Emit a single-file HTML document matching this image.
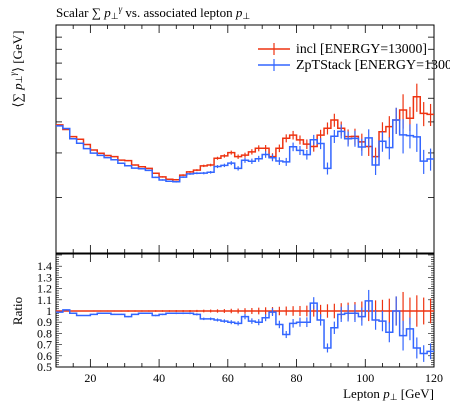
<!DOCTYPE html>
<html><head><meta charset="utf-8"><style>
body{margin:0;background:#fff;width:450px;height:406px;overflow:hidden}
svg{display:block;font-family:"Liberation Serif",serif}
</style></head><body>
<svg id="chart" width="450" height="406" viewBox="0 0 450 406">
<text x="56" y="17" font-size="13">Scalar ∑ <tspan font-style="italic">p</tspan><tspan font-size="9" dy="2">⊥</tspan><tspan font-size="9" dy="-7" font-style="italic">γ</tspan><tspan dy="5"> vs. associated lepton </tspan><tspan font-style="italic">p</tspan><tspan font-size="9" dy="2">⊥</tspan></text>
<text transform="translate(22,69) rotate(-90)" text-anchor="middle" font-size="13">⟨∑ <tspan font-style="italic">p</tspan><tspan font-size="9">⊥</tspan><tspan font-size="9" font-style="italic" dy="-6">γ</tspan><tspan dy="6">⟩ [GeV]</tspan></text>
<text transform="translate(22,311) rotate(-90)" text-anchor="middle" font-size="13">Ratio</text>
<text x="434" y="398" text-anchor="end" font-size="13">Lepton <tspan font-style="italic">p</tspan><tspan font-size="9" dy="2">⊥</tspan><tspan dy="-2"> [GeV]</tspan></text>
<g id="main"></g>
<g id="ratio"></g>
<g>
<g>
<line x1="258" y1="49" x2="290" y2="49" stroke="#EE3311" stroke-width="1.5"/><line x1="274" y1="43" x2="274" y2="55" stroke="#EE3311" stroke-width="1.2"/>
<text x="296" y="53" font-size="14" textLength="131" lengthAdjust="spacingAndGlyphs">incl [ENERGY=13000]</text></g>
<g>
<line x1="258" y1="65" x2="290" y2="65" stroke="#3366FF" stroke-width="1.5"/><line x1="274" y1="59" x2="274" y2="71" stroke="#3366FF" stroke-width="1.2"/>
<text x="296" y="69" font-size="14">ZpTStack [ENERGY=13000]</text></g>
</g>
</svg>
<script>
const binLow = 10, binWidth = 2;
const inclValues = [3.60,3.44,3.20,3.12,2.96,2.80,2.71,2.65,2.62,2.53,2.52,2.41,2.37,2.33,2.22,2.14,2.09,2.08,2.18,2.25,2.29,2.39,2.41,2.58,2.64,2.73,2.62,2.66,2.75,2.85,2.85,2.62,2.85,3.15,3.25,3.10,2.97,2.90,3.25,3.48,3.78,3.48,3.20,3.21,3.04,2.90,2.62,3.36,3.54,3.78,4.18,3.85,4.77,4.04,4.00];
const ratioValues = [0.99,1.01,0.98,0.96,0.96,0.97,0.98,0.98,0.97,0.97,0.95,0.97,0.98,0.98,0.96,0.97,0.98,0.98,0.98,0.98,0.97,0.93,0.93,0.92,0.91,0.90,0.89,0.95,0.91,0.90,0.94,0.99,0.88,0.79,0.89,0.90,0.90,1.07,0.92,0.67,0.85,0.97,0.98,0.98,0.95,1.09,0.92,0.91,0.81,1.00,0.78,0.84,0.67,0.62,0.64];
const relErrors = [0.004,0.004,0.004,0.004,0.004,0.005,0.005,0.005,0.005,0.005,0.006,0.006,0.006,0.006,0.007,0.007,0.007,0.008,0.008,0.009,0.01,0.012,0.013,0.015,0.017,0.02,0.022,0.025,0.027,0.03,0.033,0.035,0.038,0.04,0.043,0.045,0.048,0.05,0.055,0.06,0.065,0.07,0.075,0.08,0.085,0.09,0.095,0.1,0.11,0.13,0.17,0.12,0.14,0.12,0.11];
const xTicksMajor = [20,40,60,80,100,120];
const mainTicks = [1.74,2.72,3.71,4.7,5.69,6.68,7.67,8.66];
const ratioTickLabels = [0.5,0.6,0.7,0.8,0.9,1,1.1,1.2,1.3,1.4];

const NS="http://www.w3.org/2000/svg";
const L=56,R=434,MT=25,MB=253,RT=254,RB=367;
const xs=g=>L+(g-10)*(R-L)/110;
const ym=v=>253-100*Math.log(v);
const yr=r=>311-(r-1)*112;
function mk(parent,tag,attrs){const e=document.createElementNS(NS,tag);for(const k in attrs)e.setAttribute(k,attrs[k]);parent.appendChild(e);return e;}
const main=document.getElementById('main'), ratio=document.getElementById('ratio');
const RED="#EE3311",BLUE="#3366FF";
function steps(vals,f){let d="";vals.forEach((v,i)=>{const x0=xs(binLow+i*binWidth),x1=xs(binLow+(i+1)*binWidth),y=f(v);d+=(i?"L":"M")+x0+","+y+"L"+x1+","+y;});return d;}
function frame(par,top,bot,name){
  const r=mk(par,'rect',{x:L,y:top,width:R-L,height:bot-top,fill:'none',stroke:'#000','stroke-width':1});
  
  
  for(let g=10;g<=120;g+=5){const maj=g%20===0;const len=maj?8:4;const x=xs(g);
    mk(par,'line',{x1:x,y1:bot,x2:x,y2:bot-len,stroke:'#000','stroke-width':0.8});
    mk(par,'line',{x1:x,y1:top,x2:x,y2:top+len,stroke:'#000','stroke-width':0.8});}
}
frame(main,MT,MB,'main-frame');
mainTicks.forEach(v=>{const y=ym(v);if(y>MT&&y<MB){mk(main,'line',{x1:L,y1:y,x2:L+6,y2:y,stroke:'#000','stroke-width':0.8});mk(main,'line',{x1:R,y1:y,x2:R-6,y2:y,stroke:'#000','stroke-width':0.8});}});
const blueValues=inclValues.map((v,i)=>v*ratioValues[i]);
[[inclValues,RED,'incl'],[blueValues,BLUE,'zptstack']].forEach(([vals,c,n])=>{
  const p=mk(main,'path',{d:steps(vals,ym),fill:'none',stroke:c,'stroke-width':1.5});
  
  
  vals.forEach((v,i)=>{const x=xs(binLow+(i+0.5)*binWidth);const e=relErrors[i];
    const l=mk(main,'line',{x1:x,x2:x,y1:ym(v*(1+e)),y2:ym(v*(1-e)),stroke:c,'stroke-width':1.2});
    
    });
});
frame(ratio,RT,RB,'ratio-frame');
for(let r=0.5;r<=1.501;r+=0.02){const y=yr(r);const maj=Math.abs(r*10-Math.round(r*10))<0.01;const len=maj?6:3;
  mk(ratio,'line',{x1:L,y1:y,x2:L+len,y2:y,stroke:'#000','stroke-width':0.6});mk(ratio,'line',{x1:R,y1:y,x2:R-len,y2:y,stroke:'#000','stroke-width':0.6});}
ratioTickLabels.forEach(r=>{const t=mk(ratio,'text',{x:L-4,y:yr(r)+4,'text-anchor':'end','font-size':12});t.textContent=String(r);
  
  });
xTicksMajor.forEach(g=>{const t=mk(ratio,'text',{x:xs(g),y:382,'text-anchor':'middle','font-size':12});t.textContent=String(g);
  
  });
const ones=ratioValues.map(()=>1);
const rl=mk(ratio,'path',{d:steps(ones,yr),fill:'none',stroke:RED,'stroke-width':1.5});


const bl=mk(ratio,'path',{d:steps(ratioValues,r=>yr(Math.max(0.5,r))),fill:'none',stroke:BLUE,'stroke-width':1.5});


ratioValues.forEach((r,i)=>{const x=xs(binLow+(i+0.5)*binWidth);const e=relErrors[i];
  const a=mk(ratio,'line',{x1:x,x2:x,y1:yr(1+e),y2:yr(1-e),stroke:RED,'stroke-width':1.2});
  
  
  const b=mk(ratio,'line',{x1:x,x2:x,y1:yr(r*(1+e)),y2:Math.min(RB,yr(r*(1-e))),stroke:BLUE,'stroke-width':1.2});
  
  });
</script>
</body></html>
